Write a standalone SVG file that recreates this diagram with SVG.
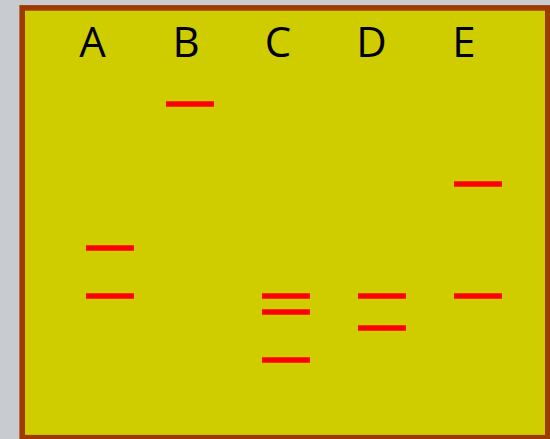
<svg xmlns="http://www.w3.org/2000/svg" width="550" height="439" viewBox="0 0 550 439">
<style>
.lbl{font-family:"Open Sans","Liberation Sans",sans-serif;font-size:42px;fill:#000;text-anchor:middle}
.band{stroke:#ff0000;stroke-width:5.4;fill:none}
</style>
<rect x="0" y="0" width="550" height="439" fill="#c8ccd0"/>
<g id="gel">
<rect x="22.2" y="7.9" width="525.6" height="429.8" fill="#cfcd00" stroke="#9e3a00" stroke-width="5.6"/>
</g>
<g id="labels">
<text class="lbl" x="92.5" y="57">A</text>
<text class="lbl" x="186" y="57">B</text>
<text class="lbl" x="278" y="57">C</text>
<text class="lbl" x="371.5" y="57">D</text>
<text class="lbl" x="464" y="57">E</text>
</g>
<g id="laneA">
<line class="band" x1="86" y1="248" x2="134" y2="248"/>
<line class="band" x1="86" y1="296" x2="134" y2="296"/>
</g>
<g id="laneB">
<line class="band" x1="166" y1="104" x2="214" y2="104"/>
</g>
<g id="laneC">
<line class="band" x1="262" y1="296" x2="310" y2="296"/>
<line class="band" x1="262" y1="312" x2="310" y2="312"/>
<line class="band" x1="262" y1="360" x2="310" y2="360"/>
</g>
<g id="laneD">
<line class="band" x1="358" y1="296" x2="406" y2="296"/>
<line class="band" x1="358" y1="328" x2="406" y2="328"/>
</g>
<g id="laneE">
<line class="band" x1="454" y1="184" x2="502" y2="184"/>
<line class="band" x1="454" y1="296" x2="502" y2="296"/>
</g>
<g id="connectors"></g>
</svg>
